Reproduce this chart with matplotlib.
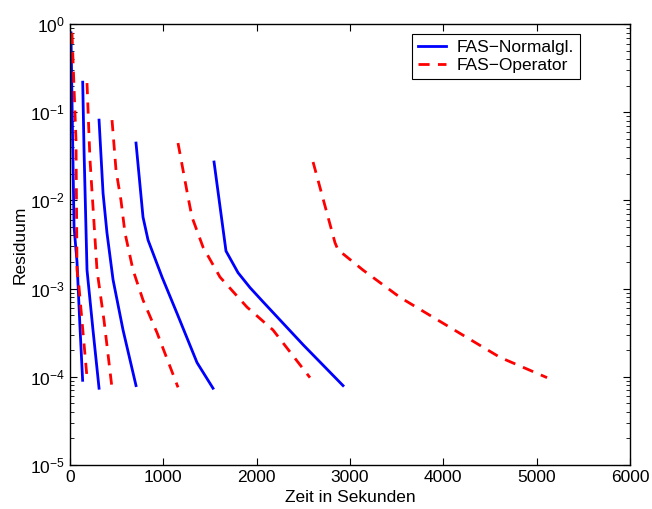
import numpy as np
import matplotlib
matplotlib.use('Agg')
import matplotlib.pyplot as plt

plt.rcParams['font.family'] = ['Liberation Sans', 'DejaVu Sans']
plt.rcParams['mathtext.fontset'] = 'custom'
plt.rcParams['mathtext.rm'] = 'Liberation Sans'
plt.rcParams['mathtext.it'] = 'Liberation Sans:italic'

# blue curves (FAS-Normalgl.): time in s, log10 of residual
b1_t = [10, 21, 43, 75, 105, 135]
b1_r = [-0.10, -0.86, -2.30, -2.70, -3.40, -4.04]
b2_t = [136, 150, 182, 246, 311]
b2_r = [-0.66, -1.43, -2.79, -3.47, -4.13]
b3_t = [311, 354, 396, 461, 568, 707]
b3_r = [-1.09, -1.92, -2.37, -2.90, -3.47, -4.10]
b4_t = [707, 782, 836, 986, 1146, 1361, 1532]
b4_r = [-1.35, -2.19, -2.45, -2.87, -3.28, -3.84, -4.13]
b5_t = [1543, 1671, 1800, 1929, 2068, 2500, 2925]
b5_r = [-1.565, -2.574, -2.82, -2.99, -3.15, -3.64, -4.10]

# red curves (FAS-Operator)
r1_t = [21, 64, 75, 96, 182]
r1_r = [-0.10, -1.32, -2.79, -2.98, -4.01]
r2_t = [182, 204, 214, 289, 364, 450]
r2_r = [-0.67, -1.28, -1.54, -2.79, -3.36, -4.13]
r3_t = [450, 493, 546, 589, 675, 782, 932, 1157]
r3_r = [-1.09, -1.66, -2.00, -2.37, -2.79, -3.13, -3.50, -4.12]
r4_t = [1157, 1264, 1307, 1425, 1607, 1896, 2175, 2571]
r4_r = [-1.35, -1.96, -2.19, -2.53, -2.87, -3.21, -3.47, -4.01]
r5_t = [2604, 2839, 2871, 3139, 3536, 4071, 4607, 5111]
r5_r = [-1.565, -2.48, -2.56, -2.79, -3.10, -3.44, -3.78, -4.01]

blue = [(b1_t, b1_r), (b2_t, b2_r), (b3_t, b3_r), (b4_t, b4_r), (b5_t, b5_r)]
red = [(r1_t, r1_r), (r2_t, r2_r), (r3_t, r3_r), (r4_t, r4_r), (r5_t, r5_r)]

fig = plt.figure(figsize=(6.52, 5.09), dpi=100)
ax = fig.add_axes([0.1074, 0.0865, 0.8589, 0.8664])

for i, (t, r) in enumerate(blue):
    ax.semilogy(t, 10.0 ** np.array(r), color='#0000ff', lw=2.0,
                label='FAS\u2212Normalgl.' if i == 0 else None)
for i, (t, r) in enumerate(red):
    ax.semilogy(t, 10.0 ** np.array(r), color='#ff0000', lw=2.0,
                dashes=(4, 3), label='FAS\u2212Operator' if i == 0 else None)

ax.set_xlim(0, 6000)
ax.set_ylim(1e-5, 1)
ax.set_xticks(range(0, 6001, 1000))
ax.set_yticks([1e-5, 1e-4, 1e-3, 1e-2, 1e-1, 1e0])
ax.tick_params(which='both', direction='in', top=True, right=True,
               labelsize=12.5)
ax.tick_params(which='major', length=5)
ax.tick_params(which='minor', length=3)
for s in ax.spines.values():
    s.set_linewidth(1.0)

ax.set_xlabel('Zeit in Sekunden', fontsize=12.5, labelpad=4)
ax.set_ylabel('Residuum', fontsize=12.5, labelpad=2)

leg = ax.legend(loc='upper right', bbox_to_anchor=(0.91, 0.978), fontsize=12.5,
                fancybox=False, edgecolor='black', framealpha=1,
                handlelength=1.6, handletextpad=0.6, borderpad=0.35,
                labelspacing=0.15, borderaxespad=0)
leg.get_frame().set_linewidth(0.8)

plt.savefig('out.png', dpi=100)
